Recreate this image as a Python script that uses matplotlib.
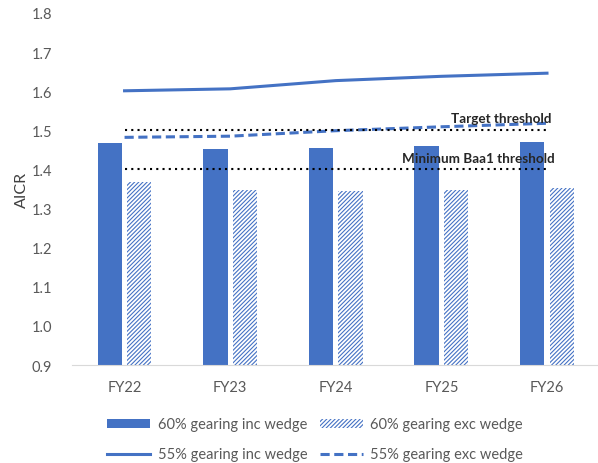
import matplotlib.pyplot as plt
import numpy as np

plt.rcParams['font.family'] = ['Lato', 'DejaVu Sans']
plt.rcParams['hatch.linewidth'] = 0.8

# Data
years = ['FY22', 'FY23', 'FY24', 'FY25', 'FY26']
inc_60 = [1.468, 1.453, 1.455, 1.461, 1.470]
exc_60 = [1.369, 1.348, 1.346, 1.348, 1.352]
inc_55 = [1.601, 1.606, 1.627, 1.638, 1.646]
exc_55 = [1.482, 1.485, 1.499, 1.509, 1.518]
target = 1.5
baa1 = 1.4

blue = '#4472C4'
grey = '#595959'

fig = plt.figure(figsize=(5.98, 4.64), dpi=100)
ax = fig.add_axes([0.120, 0.211, 0.883, 0.759])

x = np.arange(len(years))
w = 0.23
ax.bar(x - 0.14, inc_60, w, color=blue, label='60% gearing inc wedge')
ax.bar(x + 0.14, exc_60, w, color='white', edgecolor=blue, hatch='////////',
       linewidth=0, label='60% gearing exc wedge')
ax.plot(x, inc_55, color=blue, lw=2.2, label='55% gearing inc wedge')
ax.plot(x, exc_55, color=blue, lw=2.2, ls=(0, (3, 1.5)), label='55% gearing exc wedge')

# thresholds
ax.plot([x[0], x[-1] + 0.03], [target, target], color='black', lw=1.5, ls=(0, (1, 2)))
ax.plot([x[0], x[-1] + 0.03], [baa1, baa1], color='black', lw=1.5, ls=(0, (1, 2)))
ax.text(x[-1] + 0.04, target + 0.015, 'Target threshold', ha='right', va='bottom',
        fontsize=9.7, fontweight='bold', color='#262626')
ax.text(x[-1] + 0.07, baa1 + 0.015, 'Minimum Baa1 threshold', ha='right', va='bottom',
        fontsize=9.7, fontweight='bold', color='#262626')

ax.set_xlim(-0.5, 4.5)
ax.set_ylim(0.9, 1.8)
ticks = np.arange(0.9, 1.81, 0.1)
ax.set_yticks(ticks)
ax.set_yticklabels([f'{v:.1f}' for v in ticks])
ax.set_xticks(x)
ax.set_xticklabels(years)
ax.tick_params(length=0, labelsize=10.5, labelcolor=grey)
ax.tick_params(axis='x', pad=11)
ax.tick_params(axis='y', pad=14)
ax.set_ylabel('AICR', fontsize=11.5, color='#404040', labelpad=2)

for s in ['top', 'right', 'left']:
    ax.spines[s].set_visible(False)
ax.spines['bottom'].set_color('#D9D9D9')

handles, labels = ax.get_legend_handles_labels()
order = [2, 0, 3, 1]
fig.legend([handles[i] for i in order], [labels[i] for i in order],
           loc='lower center', bbox_to_anchor=(0.527, -0.025), ncol=2, frameon=False,
           fontsize=10.5, handlelength=2.95, handleheight=0.6, columnspacing=0.85,
           handletextpad=0.5, labelcolor=grey, labelspacing=1.1)

plt.savefig('out.png', dpi=100)
